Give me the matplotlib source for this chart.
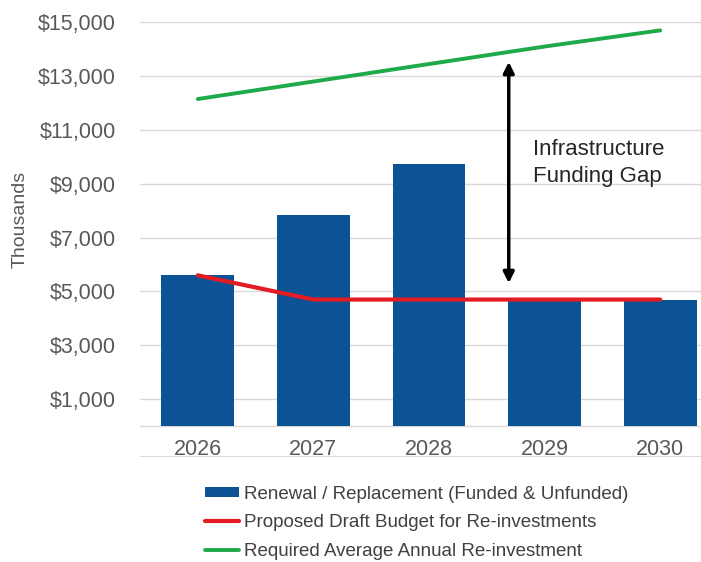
import matplotlib
import matplotlib.pyplot as plt

matplotlib.use('Agg')
matplotlib.rcParams["font.family"] = "Liberation Sans"

# Capital plan data (thousands of dollars)
years = ['2026', '2027', '2028', '2029', '2030']
renewal = [5600, 7850, 9750, 4700, 4700]
draft_budget = [5600, 4700, 4700, 4700, 4700]
required_avg = [12150, 12800, 13450, 14100, 14700]

bar_color = '#0B5394'
red = '#E31B23'
green = '#1FAA4A'
grid_color = '#D9D9D9'
y_bottom = -1150

fig = plt.figure(figsize=(7.01, 5.62), dpi=100)
ax = fig.add_axes([0.1997, 0.1868, 0.8245, 0.7735])

x = list(range(len(years)))
bars = ax.bar(x, renewal, width=0.63, color=bar_color, zorder=2)
red_line, = ax.plot(x, draft_budget, color=red, lw=3.0, zorder=3,
                    solid_capstyle='round')
green_line, = ax.plot(x, required_avg, color=green, lw=2.8, zorder=3,
                      solid_capstyle='round')

# axes and gridlines
ax.set_xlim(-0.5, 4.5)
ax.set_ylim(y_bottom, 15000)
yt = list(range(1000, 15001, 2000))
ax.set_yticks(yt)
ax.set_yticklabels([f'${v:,.0f}' for v in yt])
ax.grid(axis='y', color=grid_color, lw=1.0, zorder=0)
ax.axhline(0, color=grid_color, lw=1.0, zorder=1)
ax.axhline(y_bottom, color=grid_color, lw=1.5, zorder=1)
ax.tick_params(axis='y', length=0, pad=17.5, labelsize=15.5, labelcolor='#595959')
ax.set_xticks([])
for s in ax.spines.values():
    s.set_visible(False)

# category labels sit just under the zero line
for i, yr in enumerate(years):
    ax.text(i, -880, yr, ha='center', va='center', fontsize=15.5, color='#595959')

fig.text(0.029, 0.61, 'Thousands', rotation=90, ha='center', va='center',
         fontsize=14, color='#595959')

# funding gap arrow and label
ax.annotate('', xy=(2.69, 13530), xytext=(2.69, 5310),
            arrowprops=dict(arrowstyle='<|-|>', color='black', lw=2.5,
                            mutation_scale=16, shrinkA=0, shrinkB=0), zorder=4)
ax.text(2.9, 9770, 'Infrastructure\nFunding Gap', ha='left', va='center',
        fontsize=16, color='#262626', linespacing=1.35)

fig.legend([bars, red_line, green_line],
           ['Renewal / Replacement (Funded & Unfunded)',
            'Proposed Draft Budget for Re-investments',
            'Required Average Annual Re-investment'],
           loc='upper left', bbox_to_anchor=(0.292, 0.136), frameon=False,
           fontsize=13.5, labelcolor='#404040', handlelength=1.85,
           handleheight=0.45, handletextpad=0.25, labelspacing=0.62,
           borderaxespad=0, borderpad=0)

plt.savefig('out.png', dpi=100)
